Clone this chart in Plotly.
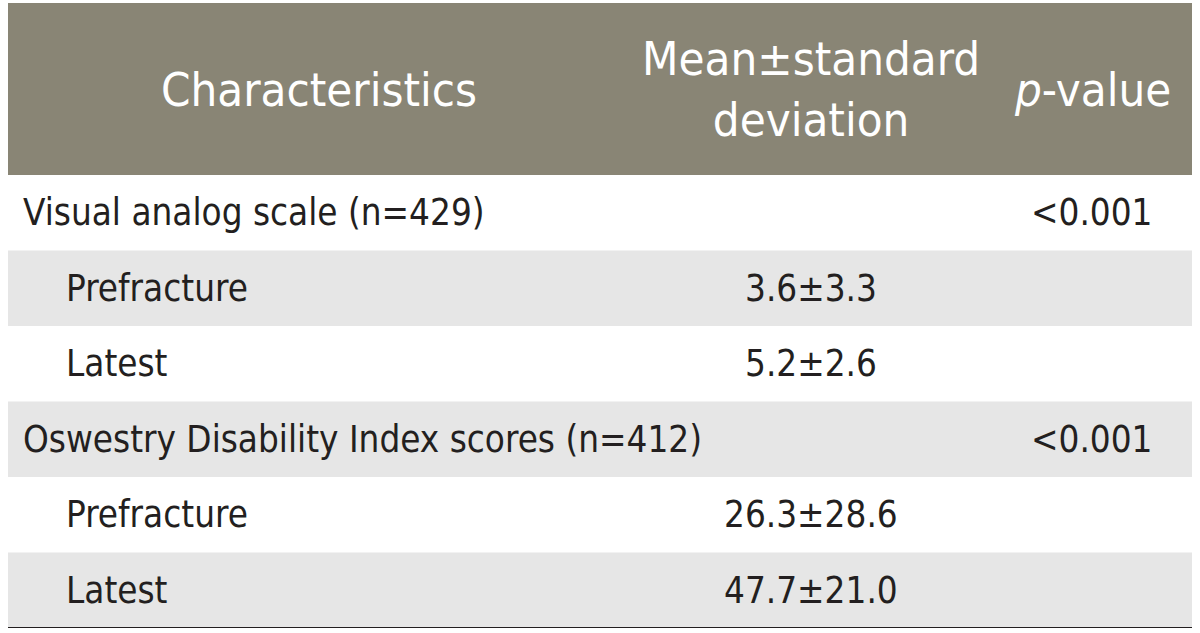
import plotly.graph_objects as go

# ---- data ----
header_labels = ["Characteristics", "Mean±standard<br>deviation", "<i>p</i>-value"]
row_labels = ["Visual analog scale (n=429)", "Prefracture", "Latest",
              "Oswestry Disability Index scores (n=412)", "Prefracture", "Latest"]
row_is_sub = [False, True, True, False, True, True]
mean_sd = ["", "3.6±3.3", "5.2±2.6", "", "26.3±28.6", "47.7±21.0"]
p_values = ["<0.001", "", "", "<0.001", "", ""]

# ---- style ----
FONT = "'Liberation Sans Narrow', 'Arial Narrow', 'DejaVu Sans Condensed', 'Roboto', sans-serif"
HEADER_BG = "#898575"
STRIPE = "#e6e6e6"
TEXT = "#231f20"
W, H = 1200, 633
ML, MR, MT, MB = 8, 8, 3, 5
ROW_PX = 75.5
HEADER_PX = 172
head_rows = HEADER_PX / ROW_PX
plot_w = W - ML - MR
HEAD_SIZE = 47
BODY_SIZE = 36.5

def px_x(px):
    return (px - ML) / plot_w

col_centers = [px_x(319), px_x(811), px_x(1092)]
x_main, x_sub = px_x(21), px_x(64)

fig = go.Figure()
fig.add_trace(go.Scatter(x=[0, 1], y=[0, 0], mode="markers",
                         marker=dict(opacity=0), hoverinfo="skip", showlegend=False))

shapes = []
annotations = []
# header
shapes.append(dict(type="rect", xref="paper", yref="y", x0=0, x1=1,
                   y0=-0.5 - head_rows, y1=-0.5, fillcolor=HEADER_BG,
                   line=dict(width=0), layer="below"))
yh = -0.5 - head_rows / 2
for txt, xc in zip(header_labels, col_centers):
    annotations.append(dict(xref="paper", yref="y", x=xc, y=yh, text=txt,
                            showarrow=False, xanchor="center", yanchor="middle",
                            font=dict(family=FONT, size=HEAD_SIZE, color="white")))
# rows
for i, (lab, sub, m, p) in enumerate(zip(row_labels, row_is_sub, mean_sd, p_values)):
    if i % 2 == 1:
        shapes.append(dict(type="rect", xref="paper", yref="y", x0=0, x1=1,
                           y0=i - 0.5, y1=i + 0.5, fillcolor=STRIPE,
                           line=dict(width=0), layer="below"))
    annotations.append(dict(xref="paper", yref="y", x=x_sub if sub else x_main, y=i,
                            text=lab, showarrow=False, xanchor="left", yanchor="middle",
                            font=dict(family=FONT, size=BODY_SIZE, color=TEXT)))
    if m:
        annotations.append(dict(xref="paper", yref="y", x=col_centers[1], y=i,
                                text=m, showarrow=False, xanchor="center", yanchor="middle",
                                font=dict(family=FONT, size=BODY_SIZE, color=TEXT)))
    if p:
        annotations.append(dict(xref="paper", yref="y", x=col_centers[2], y=i,
                                text=p, showarrow=False, xanchor="center", yanchor="middle",
                                font=dict(family=FONT, size=BODY_SIZE, color=TEXT)))
# bottom rule
n = len(row_labels)
shapes.append(dict(type="line", xref="paper", yref="y", x0=0, x1=1,
                   y0=n - 0.5, y1=n - 0.5, line=dict(color=TEXT, width=2)))

fig.update_layout(
    width=W, height=H,
    margin=dict(l=ML, r=MR, t=MT, b=MB),
    paper_bgcolor="white", plot_bgcolor="white",
    xaxis=dict(range=[0, 1], visible=False, fixedrange=True),
    yaxis=dict(range=[n - 0.5, -0.5 - head_rows], visible=False, fixedrange=True),
    shapes=shapes, annotations=annotations, showlegend=False,
)
fig.write_html("out.html", config={"displayModeBar": False},
               post_script="document.body.style.margin='0';document.body.style.overflow='hidden';")
